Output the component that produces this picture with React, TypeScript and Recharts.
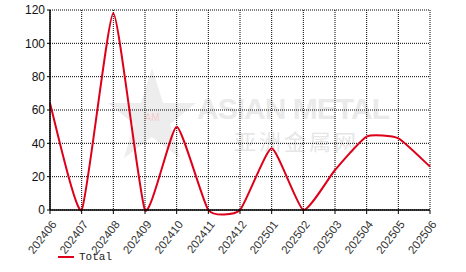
import { LineChart, Line, XAxis, YAxis, CartesianGrid } from 'recharts';

const months = ['202406', '202407', '202408', '202409', '202410', '202411', '202412', '202501', '202502', '202503', '202504', '202505', '202506'];
const totals = [64, 0, 118, 0, 50, 0, 0, 37, 0, 24, 44, 43, 26];
const yTicks = [0, 20, 40, 60, 80, 100, 120];

const data = months.map((month, i) => ({ month, total: totals[i] }));

// cardinal spline, like the original chart's smoothing (slight overshoot below zero)
function cardinalCurve(tension: number) {
  const k = (1 - tension) / 6;
  return (context: any) => {
    let xs: number[] = [];
    let ys: number[] = [];
    return {
      areaStart() {},
      areaEnd() {},
      lineStart() {
        xs = [];
        ys = [];
      },
      point(x: number, y: number) {
        xs.push(+x);
        ys.push(+y);
      },
      lineEnd() {
        const n = xs.length;
        if (!n) return;
        context.moveTo(xs[0], ys[0]);
        for (let i = 0; i < n - 1; i++) {
          const i0 = Math.max(i - 1, 0);
          const i3 = Math.min(i + 2, n - 1);
          context.bezierCurveTo(
            xs[i] + k * (xs[i + 1] - xs[i0]),
            ys[i] + k * (ys[i + 1] - ys[i0]),
            xs[i + 1] - k * (xs[i3] - xs[i]),
            ys[i + 1] - k * (ys[i3] - ys[i]),
            xs[i + 1],
            ys[i + 1],
          );
        }
      },
    };
  };
}

const curve = cardinalCurve(0.5);

function XTick({ x, y, payload }: any) {
  return (
    <text
      x={x + 4}
      y={y + 6}
      transform={`rotate(-52 ${x + 4} ${y + 6})`}
      textAnchor="end"
      dominantBaseline="central"
      fontSize={11.5}
      fill="#333"
      fontFamily="Liberation Sans, Arial, sans-serif"
    >
      {payload.value}
    </text>
  );
}

export default function App() {
  return (
    <div style={{ position: 'absolute', left: 0, top: 0, width: 466, height: 272, background: '#fff' }}>
      <div style={{ position: 'absolute', left: 0, top: 0, width: 466, height: 272, pointerEvents: 'none' }}>
        <svg width={466} height={272}>
          <polygon
            points="152,68 163,103 196,103 170,124 180,158 152,137 124,158 134,124 108,103 141,103"
            fill="#ededed"
          />
          <text x={152} y={121} textAnchor="middle" fontSize={10} fill="#f4cccc" fontFamily="Liberation Sans, Arial, sans-serif">
            AM
          </text>
          <text x={197} y={119} fontSize={30} fontWeight="bold" fill="#eaeaea" fontFamily="Liberation Sans, Arial, sans-serif" textLength={193}>
            ASIAN METAL
          </text>
          <text x={234} y={150} fontSize={22} fill="#e6e6e6" fontFamily="Noto Sans CJK SC, sans-serif" textLength={122}>
            亚洲金属网
          </text>
        </svg>
      </div>
      <div style={{ position: 'absolute', left: 0, top: 0 }}>
        <LineChart width={466} height={272} data={data} margin={{ top: 10, right: 36, left: 0, bottom: 0 }}>
          <CartesianGrid stroke="#000" strokeDasharray="1 1" vertical={true} horizontal={true} />
          <XAxis
            dataKey="month"
            height={62}
            interval={0}
            tick={<XTick />}
            tickSize={4}
            axisLine={{ stroke: '#000', strokeWidth: 1.5 }}
            tickLine={{ stroke: '#000' }}
          />
          <YAxis
            width={50}
            domain={[0, 120]}
            ticks={yTicks}
            tickSize={3}
            axisLine={{ stroke: '#000', strokeWidth: 1.5 }}
            tickLine={{ stroke: '#000' }}
            tick={{ fontSize: 12, fill: '#111', fontFamily: 'Liberation Sans, Arial, sans-serif' }}
          />
          <Line
            dataKey="total"
            type={curve as any}
            stroke="#dd0018"
            strokeWidth={2}
            dot={false}
            isAnimationActive={false}
          />
        </LineChart>
      </div>
      <div style={{ position: 'absolute', left: 58, top: 251, display: 'flex', alignItems: 'center' }}>
        <div style={{ width: 16, height: 2, background: '#dd0018', marginRight: 5 }} />
        <span style={{ fontFamily: 'Liberation Mono, Courier New, monospace', fontSize: 11, color: '#222' }}>Total</span>
      </div>
    </div>
  );
}
